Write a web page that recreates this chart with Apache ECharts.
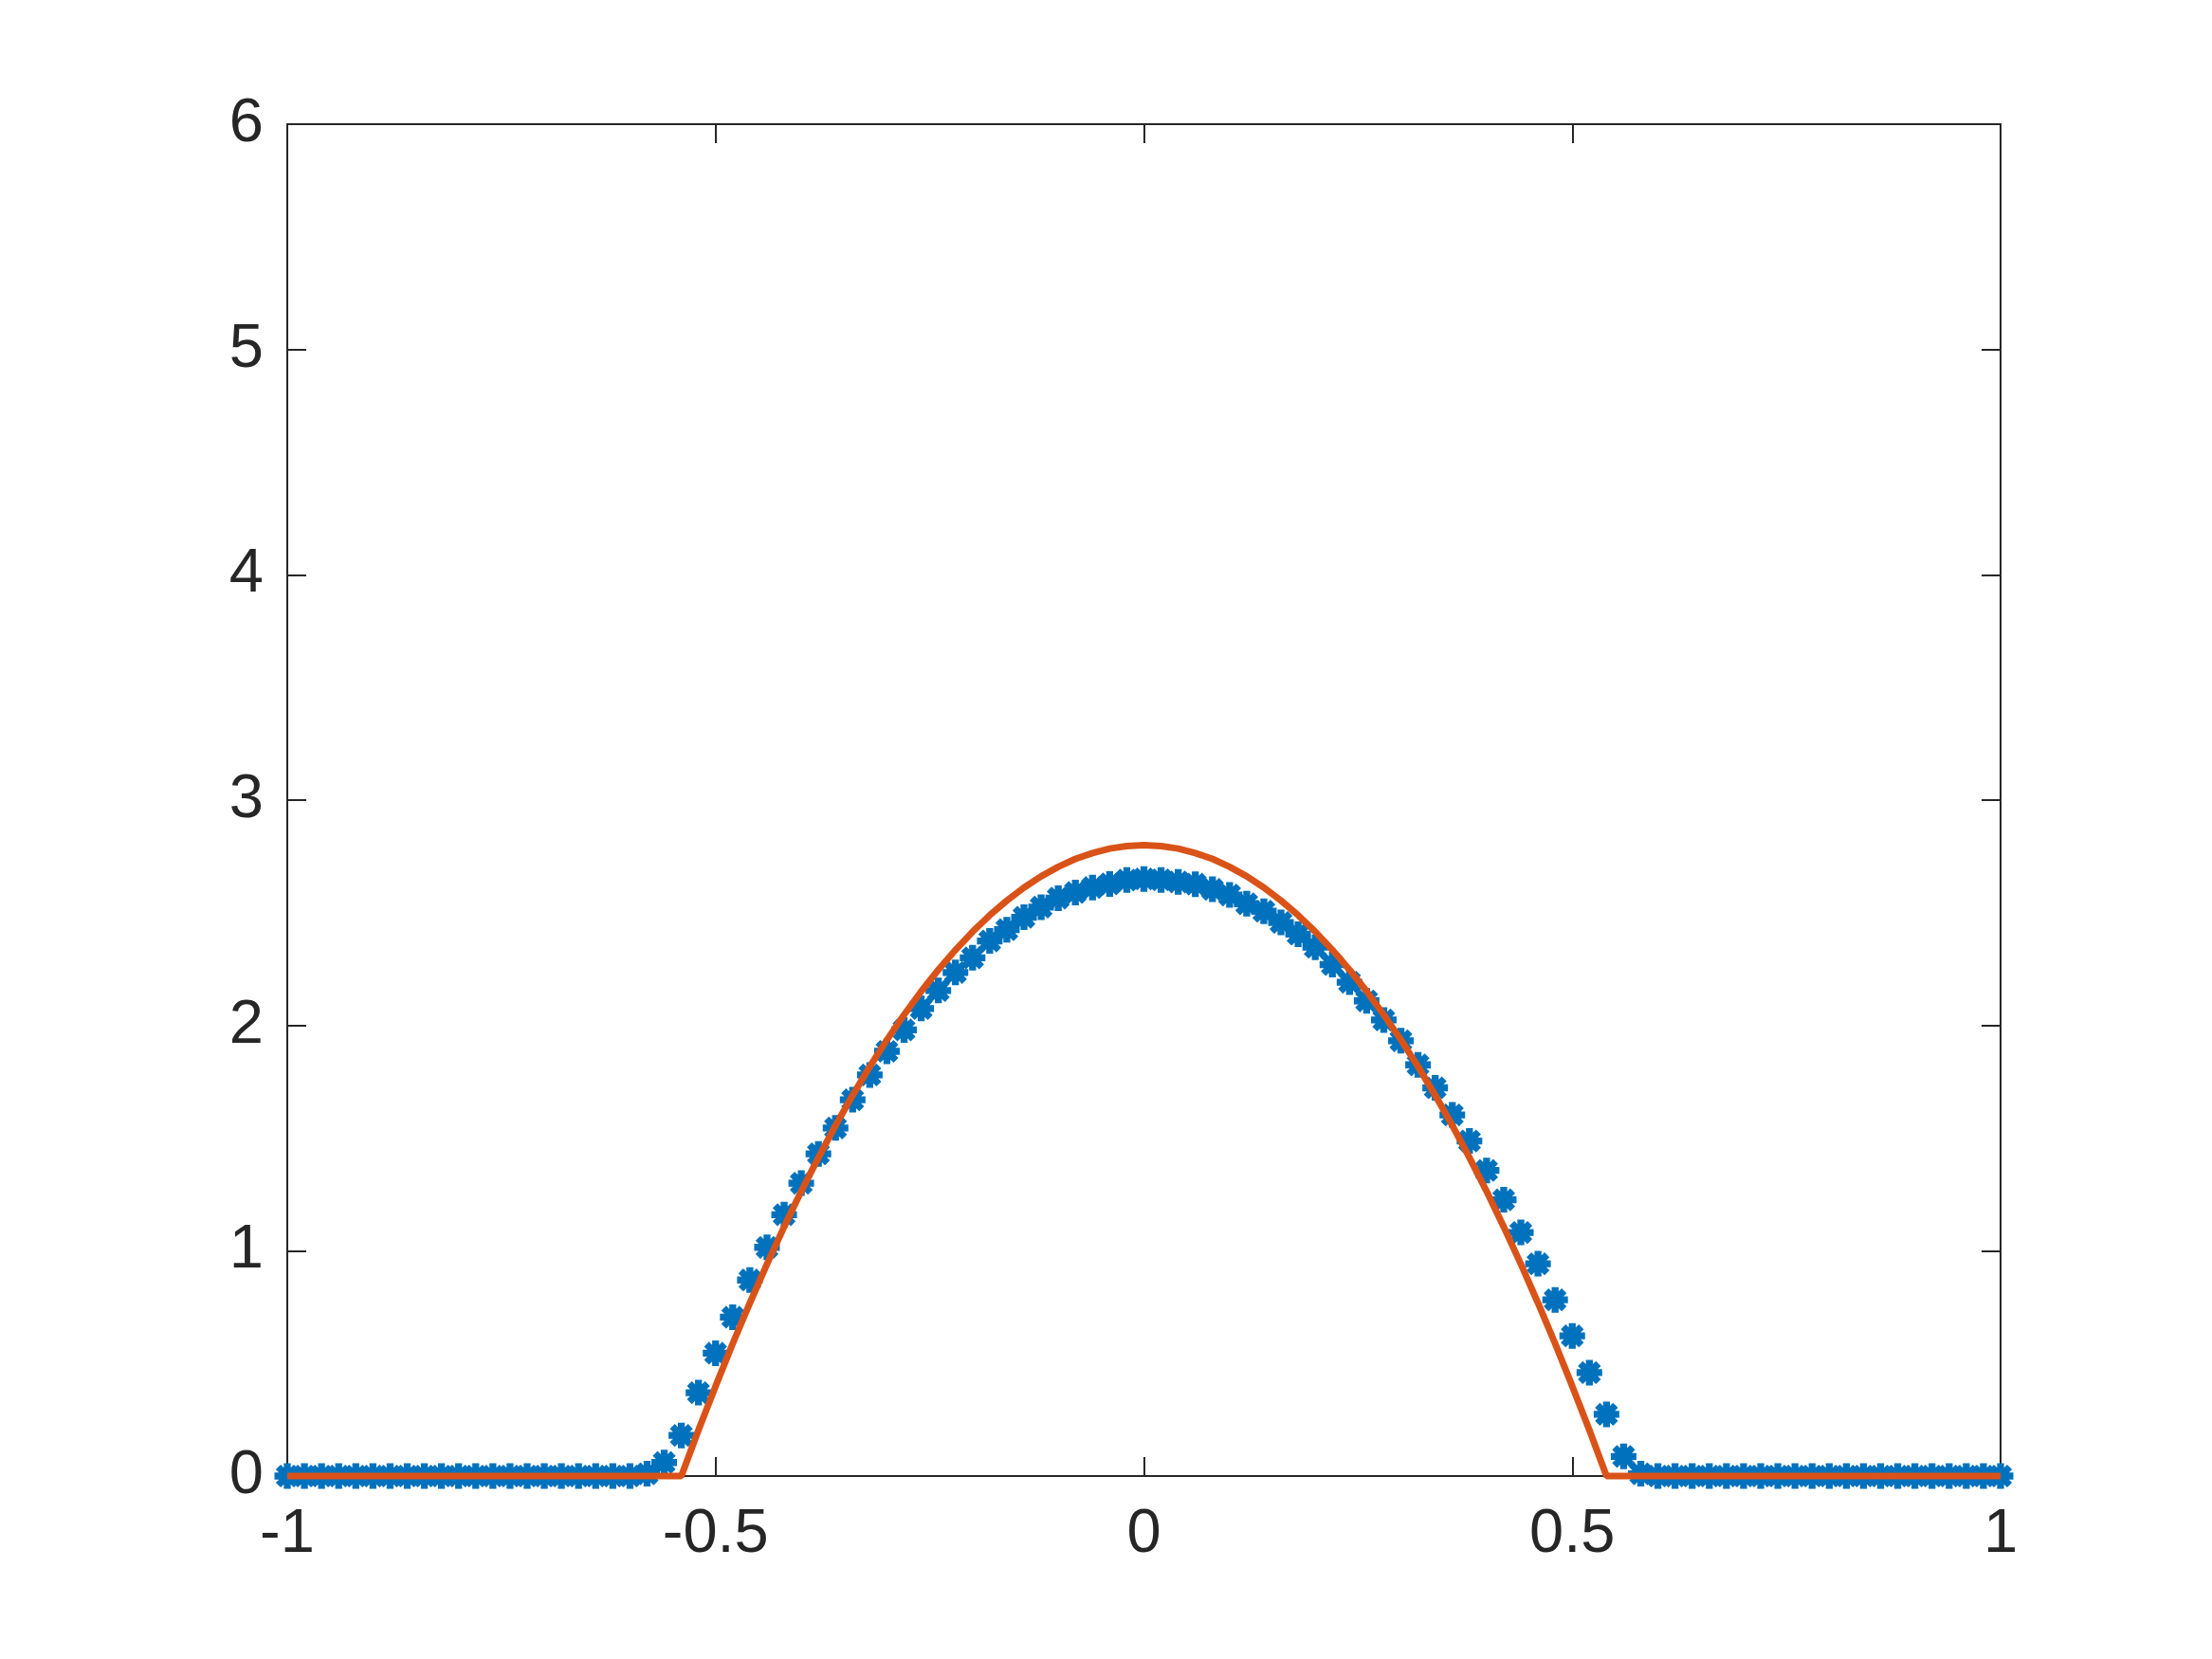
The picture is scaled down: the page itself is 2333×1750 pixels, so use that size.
<!DOCTYPE html>
<html>
<head>
<meta charset="utf-8">
<script src="https://cdn.jsdelivr.net/npm/echarts@6/dist/echarts.min.js"></script>
<style>
html,body{margin:0;padding:0;background:#fff;}
#chart{width:2333px;height:1750px;}
</style>
</head>
<body>
<div id="chart"></div>
<script>
// x grid positions
const xValues = [
 -1.00,-0.98,-0.96,-0.94,-0.92,-0.90,-0.88,-0.86,-0.84,-0.82,
 -0.80,-0.78,-0.76,-0.74,-0.72,-0.70,-0.68,-0.66,-0.64,-0.62,
 -0.60,-0.58,-0.56,-0.54,-0.52,-0.50,-0.48,-0.46,-0.44,-0.42,
 -0.40,-0.38,-0.36,-0.34,-0.32,-0.30,-0.28,-0.26,-0.24,-0.22,
 -0.20,-0.18,-0.16,-0.14,-0.12,-0.10,-0.08,-0.06,-0.04,-0.02,
  0.00, 0.02, 0.04, 0.06, 0.08, 0.10, 0.12, 0.14, 0.16, 0.18,
  0.20, 0.22, 0.24, 0.26, 0.28, 0.30, 0.32, 0.34, 0.36, 0.38,
  0.40, 0.42, 0.44, 0.46, 0.48, 0.50, 0.52, 0.54, 0.56, 0.58,
  0.60, 0.62, 0.64, 0.66, 0.68, 0.70, 0.72, 0.74, 0.76, 0.78,
  0.80, 0.82, 0.84, 0.86, 0.88, 0.90, 0.92, 0.94, 0.96, 0.98,
  1.00
];
// numerical solution (blue asterisks)
const numericValues = [
 0,0,0,0,0,0,0,0,0,0,
 0,0,0,0,0,0,0,0,0,0,
 0,0.01,0.06,0.18,0.37,0.545,0.705,0.87,1.015,1.16,
 1.30,1.43,1.545,1.67,1.78,1.885,1.98,2.075,2.155,2.235,
 2.30,2.375,2.425,2.48,2.525,2.565,2.59,2.612,2.628,2.645,
 2.65,2.646,2.637,2.627,2.604,2.579,2.54,2.507,2.457,2.405,
 2.347,2.27,2.192,2.109,2.024,1.932,1.825,1.723,1.603,1.487,
 1.356,1.226,1.081,0.942,0.782,0.622,0.459,0.274,0.087,0.01,
 0,0,0,0,0,0,0,0,0,0,
 0,0,0,0,0,0,0,0,0,0,
 0
];
// reference solution (red line)
const exactValues = [
 0,0,0,0,0,0,0,0,0,0,
 0,0,0,0,0,0,0,0,0,0,
 0,0,0,0,0.204,0.399,0.588,0.768,0.941,1.106,
 1.264,1.413,1.556,1.690,1.817,1.936,2.047,2.151,2.247,2.335,
 2.416,2.489,2.554,2.612,2.662,2.704,2.739,2.765,2.785,2.796,
 2.80,2.796,2.785,2.765,2.739,2.704,2.662,2.612,2.554,2.489,
 2.416,2.335,2.247,2.151,2.047,1.936,1.817,1.690,1.556,1.413,
 1.264,1.106,0.941,0.768,0.588,0.399,0.204,0,0,0,
 0,0,0,0,0,0,0,0,0,0,
 0,0,0,0,0,0,0,0,0,0,
 0
];
const xTicks = [-1, -0.5, 0, 0.5, 1];
const yTicks = [0, 1, 2, 3, 4, 5, 6];

function asteriskPath(h) {
  const pts = [];
  const d = h / Math.sin(Math.PI / 8);
  for (let k = 0; k < 8; k++) {
    const t = k * Math.PI / 4;
    const ux = Math.cos(t), uy = Math.sin(t), vx = -uy, vy = ux;
    pts.push([ux - h * vx, uy - h * vy]);
    pts.push([ux + h * vx, uy + h * vy]);
    const tb = t + Math.PI / 8;
    pts.push([d * Math.cos(tb), d * Math.sin(tb)]);
  }
  return 'path://M' + pts.map(p => p[0].toFixed(4) + ',' + p[1].toFixed(4)).join('L') + 'Z';
}

const axisColor = '#262626';
const font = '"Liberation Sans", Helvetica, Arial, sans-serif';

const blueData = xValues.map((x, i) => [x, numericValues[i]]);
const redData = xValues.map((x, i) => [x, exactValues[i]]);

const chart = echarts.init(document.getElementById('chart'), null, {renderer: 'canvas'});
const baseX = {
  type: 'value', min: xTicks[0], max: xTicks[xTicks.length - 1], interval: 0.5,
  splitLine: {show: false},
  axisLine: {show: true, onZero: false, lineStyle: {color: axisColor, width: 2}},
  axisTick: {show: true, inside: true, length: 20, lineStyle: {color: axisColor, width: 2}}
};
const baseY = {
  type: 'value', min: yTicks[0], max: yTicks[yTicks.length - 1], interval: 1,
  splitLine: {show: false},
  axisLine: {show: true, onZero: false, lineStyle: {color: axisColor, width: 2}},
  axisTick: {show: true, inside: true, length: 20, lineStyle: {color: axisColor, width: 2}}
};
chart.setOption({
  animation: false,
  backgroundColor: '#ffffff',
  grid: {left: 303, right: 223, top: 131, bottom: 193, containLabel: false},
  xAxis: [
    Object.assign({}, baseX, {position: 'bottom',
      axisLabel: {show: true, margin: 30, fontSize: 65, color: axisColor, fontFamily: font,
        formatter: v => String(v)}}),
    Object.assign({}, baseX, {position: 'top', axisLabel: {show: false}})
  ],
  yAxis: [
    Object.assign({}, baseY, {position: 'left',
      axisLabel: {show: true, margin: 25, fontSize: 65, color: axisColor, fontFamily: font}}),
    Object.assign({}, baseY, {position: 'right', axisLabel: {show: false}})
  ],
  series: [
    {
      type: 'scatter', xAxisIndex: 0, yAxisIndex: 0,
      data: blueData,
      symbol: asteriskPath(0.27),
      symbolSize: 27,
      clip: false,
      itemStyle: {color: '#0072BD', opacity: 1},
      z: 2
    },
    {
      type: 'line', xAxisIndex: 0, yAxisIndex: 0,
      data: redData,
      showSymbol: false, symbol: 'none',
      lineStyle: {color: '#D95319', width: 7},
      clip: false,
      z: 3
    }
  ]
});
</script>
</body>
</html>
